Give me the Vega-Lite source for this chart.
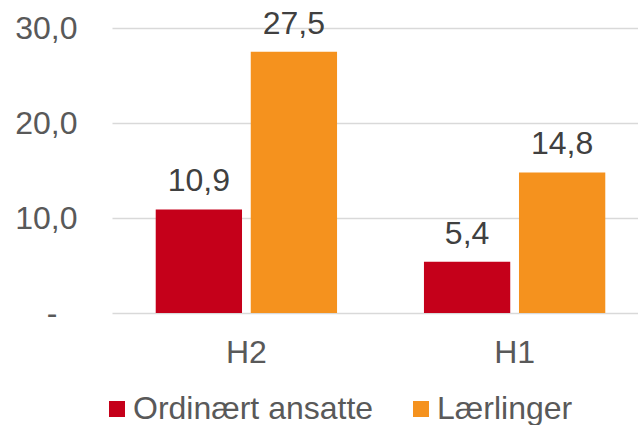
{
  "$schema": "https://vega.github.io/schema/vega-lite/v6.json",
  "width": 537,
  "height": 285,
  "autosize": "none",
  "padding": {"left": 112, "top": 28, "right": 0, "bottom": 112},
  "config": {
    "view": {"stroke": null},
    "font": "Liberation Sans",
    "locale": {"number": {"decimal": ",", "thousands": " ", "grouping": [3], "currency": ["", " kr"]}}
  },
  "data": {
    "values": [
      {"periode": "H2", "gruppe": "Ordinært ansatte", "verdi": 10.9},
      {"periode": "H2", "gruppe": "Lærlinger", "verdi": 27.5},
      {"periode": "H1", "gruppe": "Ordinært ansatte", "verdi": 5.4},
      {"periode": "H1", "gruppe": "Lærlinger", "verdi": 14.8}
    ]
  },
  "encoding": {
    "x": {
      "field": "periode", "type": "nominal", "sort": ["H2", "H1"],
      "scale": {"paddingInner": 0.324, "paddingOuter": 0.163},
      "axis": {"title": null, "labelAngle": 0, "ticks": false, "domain": false, "labelPadding": 24, "labelFontSize": 32, "labelColor": "#595959", "labelFont": "Liberation Sans"}
    },
    "xOffset": {
      "field": "gruppe", "type": "nominal", "sort": ["Ordinært ansatte", "Lærlinger"],
      "scale": {"paddingInner": 0.092, "paddingOuter": 0}
    },
    "y": {
      "field": "verdi", "type": "quantitative",
      "scale": {"domain": [0, 30], "nice": false},
      "axis": {"title": null, "values": [0, 10, 20, 30], "format": ".1f", "labelExpr": "datum.value == 0 ? '-' : datum.label", "domain": false, "ticks": false, "labelPadding": {"condition": {"test": "datum.value === 0", "value": 55}, "value": 35}, "labelFontSize": 32, "labelColor": "#595959", "gridColor": "#D9D9D9", "gridWidth": 1.5, "labelFont": "Liberation Sans"}
    }
  },
  "layer": [
    {
      "mark": {"type": "bar"},
      "encoding": {
        "color": {
          "field": "gruppe", "type": "nominal",
          "sort": ["Ordinært ansatte", "Lærlinger"],
          "scale": {"domain": ["Ordinært ansatte", "Lærlinger"], "range": ["#C5001A", "#F5921E"]},
          "legend": {
            "title": null, "orient": "none", "direction": "horizontal",
            "legendX": -11, "legendY": 365,
            "symbolType": "square", "symbolSize": 256, "symbolStrokeWidth": 0,
            "labelFontSize": 32, "labelColor": "#595959", "labelOffset": 0, "labelLimit": 400,
            "columnPadding": 31, "padding": 0, "labelFont": "Liberation Sans"
          }
        }
      }
    },
    {
      "mark": {"type": "text", "baseline": "alphabetic", "dy": -18, "fontSize": 32, "color": "#404040", "font": "Liberation Sans"},
      "encoding": {"text": {"field": "verdi", "type": "quantitative", "format": ".1f"}}
    }
  ]
}
